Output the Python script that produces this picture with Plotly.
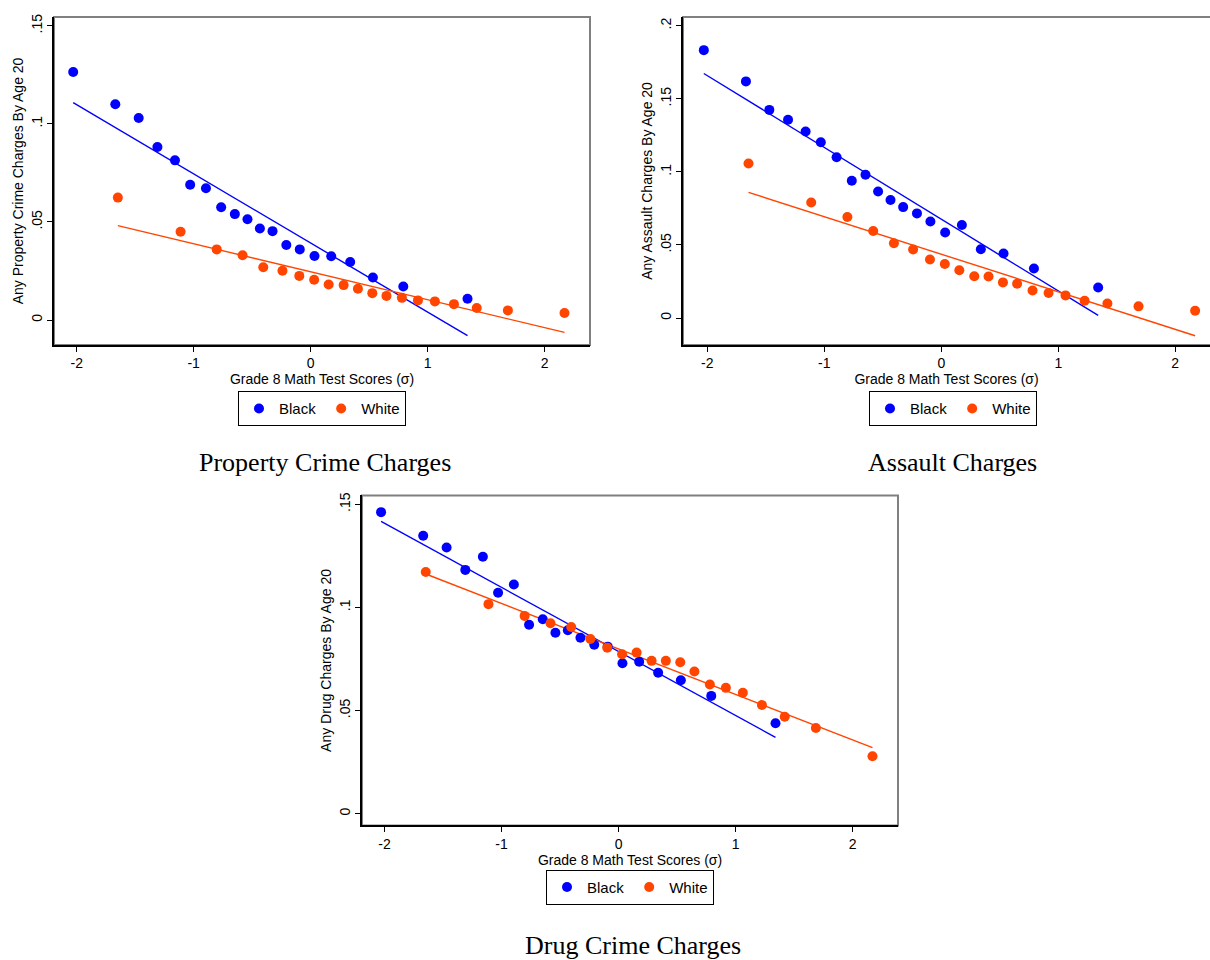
import plotly.graph_objects as go

# ---------------- data ----------------
x_black = [-2.03, -1.67, -1.47, -1.31, -1.16, -1.03, -0.895, -0.765, -0.648, -0.54,
           -0.434, -0.326, -0.208, -0.093, 0.033, 0.176, 0.338, 0.532, 0.792, 1.341]
x_white = [-1.648, -1.112, -0.803, -0.582, -0.405, -0.241, -0.097, 0.03, 0.154, 0.282,
           0.404, 0.527, 0.648, 0.78, 0.917, 1.062, 1.225, 1.42, 1.686, 2.17]

property_black = [0.1264, 0.110, 0.103, 0.0882, 0.0814, 0.069, 0.0672, 0.0575, 0.054, 0.0514,
                  0.0467, 0.0453, 0.0382, 0.036, 0.0326, 0.0325, 0.0296, 0.0217, 0.0171, 0.0108]
property_white = [0.0624, 0.045, 0.036, 0.033, 0.0269, 0.0251, 0.0225, 0.0205, 0.0181, 0.0178,
                  0.0159, 0.0137, 0.0123, 0.0113, 0.010, 0.0095, 0.0081, 0.0061, 0.0049, 0.0036]
property_fit_black = [0.1108, -0.0080]
property_fit_white = [0.0481, -0.0063]

assault_black = [0.1833, 0.1619, 0.1424, 0.1357, 0.1276, 0.1203, 0.110, 0.0939, 0.098, 0.0866,
                 0.0807, 0.0759, 0.0716, 0.066, 0.0585, 0.0636, 0.0471, 0.0441, 0.0339, 0.0209]
assault_white = [0.1057, 0.0791, 0.0691, 0.0596, 0.0512, 0.0469, 0.040, 0.037, 0.0327, 0.0286,
                 0.0284, 0.0244, 0.0234, 0.0189, 0.0171, 0.0155, 0.0118, 0.010, 0.008, 0.005]
assault_fit_black = [0.1673, 0.0018]
assault_fit_white = [0.0860, -0.0121]

drug_black = [0.1462, 0.1348, 0.1291, 0.1182, 0.1246, 0.1071, 0.1111, 0.0916, 0.0943, 0.0877,
              0.0889, 0.0853, 0.0819, 0.081, 0.0729, 0.0737, 0.0683, 0.0647, 0.0571, 0.0438]
drug_white = [0.1172, 0.1016, 0.0959, 0.0923, 0.0905, 0.0847, 0.0805, 0.0773, 0.0781, 0.0741,
              0.0741, 0.0734, 0.0689, 0.0626, 0.061, 0.0586, 0.0527, 0.047, 0.0415, 0.0278]
drug_fit_black = [0.1417, 0.0370]
drug_fit_white = [0.1162, 0.0320]

x_tick_vals = [-2, -1, 0, 1, 2]
x_tick_text = ["-2", "-1", "0", "1", "2"]
y_ticks_a = [0, 0.05, 0.1, 0.15]
y_ticks_a_text = ["0", ".05", ".1", ".15"]
y_ticks_b = [0, 0.05, 0.1, 0.15, 0.2]
y_ticks_b_text = ["0", ".05", ".1", ".15", ".2"]

x_title = "Grade 8 Math Test Scores (σ)"
y_titles = ["Any Property Crime Charges By Age 20",
            "Any Assault Charges By Age 20",
            "Any Drug Charges By Age 20"]
panel_titles = ["Property Crime Charges", "Assault Charges", "Drug Crime Charges"]
series_names = ["Black", "White"]

BLUE = "#0000FF"
ORANGE = "#FF4500"
W, H = 1210, 960

fig = go.Figure()

panels = [
    dict(xa="x", ya="y", leg="legend", black=property_black, white=property_white,
         fb=property_fit_black, fw=property_fit_white),
    dict(xa="x2", ya="y2", leg="legend2", black=assault_black, white=assault_white,
         fb=assault_fit_black, fw=assault_fit_white),
    dict(xa="x3", ya="y3", leg="legend3", black=drug_black, white=drug_white,
         fb=drug_fit_black, fw=drug_fit_white),
]

for p in panels:
    fig.add_trace(go.Scatter(x=[x_black[0], x_black[-1]], y=p["fb"], mode="lines",
                             line=dict(color=BLUE, width=1.4), showlegend=False,
                             xaxis=p["xa"], yaxis=p["ya"], hoverinfo="skip"))
    fig.add_trace(go.Scatter(x=[x_white[0], x_white[-1]], y=p["fw"], mode="lines",
                             line=dict(color=ORANGE, width=1.4), showlegend=False,
                             xaxis=p["xa"], yaxis=p["ya"], hoverinfo="skip"))
    fig.add_trace(go.Scatter(x=x_black, y=p["black"], mode="markers", name=series_names[0],
                             marker=dict(color=BLUE, size=10), legend=p["leg"],
                             xaxis=p["xa"], yaxis=p["ya"]))
    fig.add_trace(go.Scatter(x=x_white, y=p["white"], mode="markers", name=series_names[1],
                             marker=dict(color=ORANGE, size=10), legend=p["leg"],
                             xaxis=p["xa"], yaxis=p["ya"]))

# pixel geometry -> paper domains
def xd(l, r):
    return [l / W, min(r / W, 1.0)]

def yd(t, b):
    return [1 - b / H, 1 - t / H]

tick_font = dict(family="Liberation Sans, Arial, sans-serif", size=14, color="black")
title_font = dict(family="Liberation Sans, Arial, sans-serif", size=14, color="black")

def xaxis(dom, rng, anchor):
    return dict(domain=dom, range=rng, anchor=anchor, showgrid=False, zeroline=False,
                showline=True, linecolor="black", linewidth=1.5, mirror=False,
                ticks="outside", ticklen=5, tickwidth=1, tickcolor="black",
                tickvals=x_tick_vals, ticktext=x_tick_text, tickfont=tick_font,
                title=dict(text=x_title, font=title_font, standoff=0))

def yaxis(dom, rng, anchor, tv, tt, title):
    return dict(domain=dom, range=rng, anchor=anchor, showgrid=False, zeroline=False,
                showline=True, linecolor="black", linewidth=1.5, mirror=False,
                ticks="outside", ticklen=5, tickwidth=1, tickcolor="black",
                tickvals=tv, ticktext=tt, tickangle=-90, tickfont=tick_font,
                title=dict(text=title, font=title_font, standoff=2))

# panel 1
d1x, d1y = xd(54, 590), yd(14, 343)
# panel 2 (right edge cut off by the canvas)
d2x, d2y = xd(683, 1210), yd(14, 343)
# panel 3
d3x, d3y = xd(362, 898), yd(494, 825)

fig.update_layout(
    width=W, height=H, margin=dict(l=0, r=0, t=0, b=0),
    paper_bgcolor="white", plot_bgcolor="white",
    xaxis=xaxis(d1x, [-2.194, 2.388], "y"),
    yaxis=yaxis(d1y, [-0.0127, 0.1545], "x", y_ticks_a, y_ticks_a_text, y_titles[0]),
    xaxis2=xaxis(d2x, [-2.208, 2.297], "y2"),
    yaxis2=yaxis(d2y, [-0.0184, 0.206], "x2", y_ticks_b, y_ticks_b_text, y_titles[1]),
    xaxis3=xaxis(d3x, [-2.193, 2.388], "y3"),
    yaxis3=yaxis(d3y, [-0.0057, 0.1543], "x3", y_ticks_a, y_ticks_a_text, y_titles[2]),
    showlegend=True,
)

leg_common = dict(orientation="h", bordercolor="black", borderwidth=1, bgcolor="white",
                  font=dict(family="Liberation Sans, Arial, sans-serif", size=15, color="black"),
                  xanchor="center", yanchor="middle", itemwidth=30, tracegroupgap=0)
fig.update_layout(
    legend=dict(x=322 / W, y=1 - 407 / H, **leg_common),
    legend2=dict(x=953 / W, y=1 - 407 / H, **leg_common),
    legend3=dict(x=630 / W, y=1 - 887 / H, **leg_common),
)

# gray plot-region outlines (top/right)
for dx, dy in [(d1x, d1y), (d2x, d2y), (d3x, d3y)]:
    fig.add_shape(type="rect", xref="paper", yref="paper", x0=dx[0], x1=dx[1] if dx[1] < 1 else 1.01,
                  y0=dy[0], y1=dy[1], line=dict(color="#808080", width=2), layer="below")

title_font_serif = dict(family="Liberation Serif, Times New Roman, serif", size=26, color="black")
for text, cx, cy in [(panel_titles[0], 325, 461), (panel_titles[1], 952, 461), (panel_titles[2], 633, 945)]:
    fig.add_annotation(text=text, x=cx / W, y=1 - cy / H, xref="paper", yref="paper",
                       showarrow=False, xanchor="center", yanchor="middle", font=title_font_serif)

fig.write_html("out.html")
